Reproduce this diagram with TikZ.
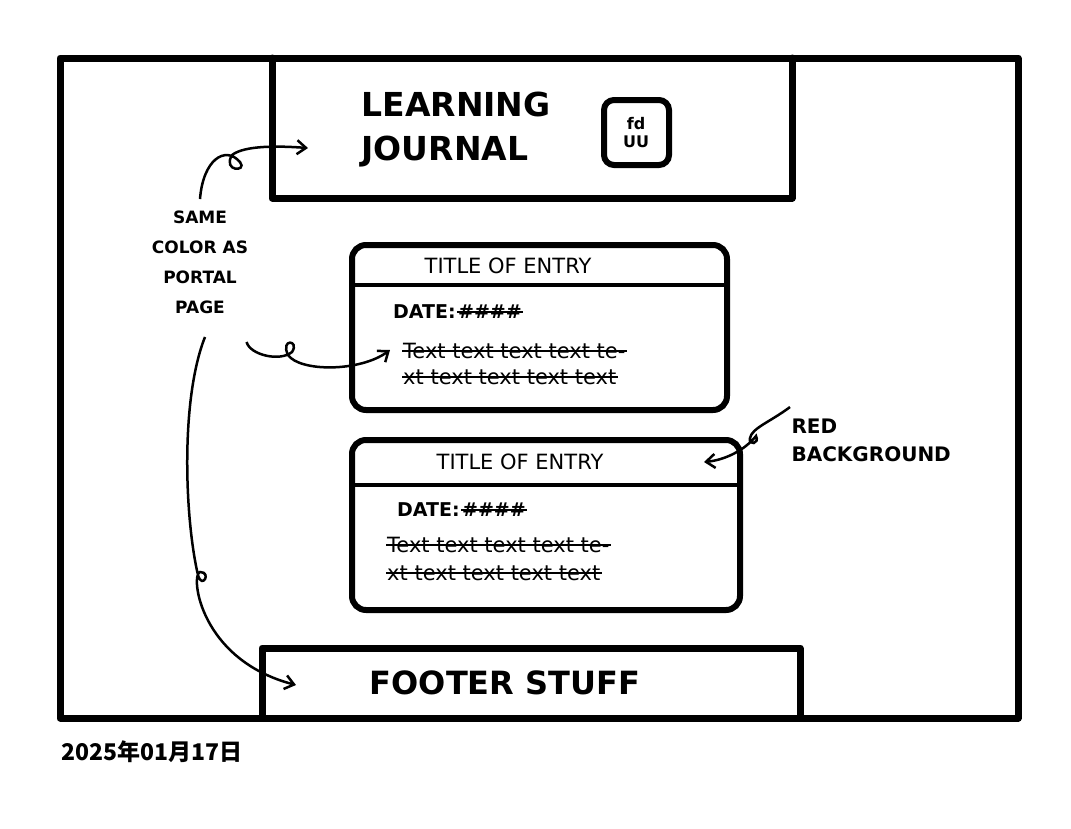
\documentclass[tikz,border=0pt]{standalone}
\usepackage{fontspec}
\setmainfont{DejaVu Sans}
\newfontfamily\cjk{Noto Sans CJK SC}
\usetikzlibrary{arrows.meta}

\tikzset{
  sketch/.style={line width=7pt, line join=round, line cap=round},
  entrybox/.style={line width=6pt, rounded corners=14pt},
  note/.style={font=\fontsize{17}{30}\selectfont\bfseries, align=center},
  scrawl/.style={font=\fontsize{21}{24}\selectfont, anchor=west, inner sep=1pt},
  strike/.style={line width=2pt},
  pointer/.style={line width=2.5pt, -{Straight Barb[length=9pt,width=14pt]}},
}

\begin{document}
\begin{tikzpicture}[x=1pt,y=-1pt]
\useasboundingbox (0,0) rectangle (1071,828);

% page frame
\draw[sketch] (60,58) rectangle (1018,718);

% header
\draw[sketch] (272,58) -- (272,198) -- (792,198) -- (792,58);
\node[anchor=west, align=left, font=\fontsize{33}{44}\selectfont\bfseries] (title) at (358,130) {LEARNING\\JOURNAL};
\draw[line width=6pt, rounded corners=10pt] (604,100) rectangle (669,165);
\node[align=center, font=\fontsize{16}{18}\selectfont\bfseries] (logo) at (636,133) {fd\\UU};

% entry one
\draw[entrybox] (352,245) rectangle (727,410);
\draw[line width=4pt] (352,285) -- (727,285);
\node[font=\fontsize{21}{24}\selectfont] (titleA) at (508,266) {TITLE OF ENTRY};
\node[scrawl, font=\fontsize{19}{22}\selectfont\bfseries] (dateA) at (392,312) {DATE:};
\node[scrawl, font=\fontsize{19}{22}\selectfont\bfseries, anchor=west] (hashA) at (dateA.east) {\#\#\#\#};
\node[scrawl] (textA1) at (402,351) {Text text text text te-};
\node[scrawl] (textA2) at (402,377) {xt text text text text};

% entry two
\draw[entrybox] (352,440) rectangle (740,610);
\draw[line width=4pt] (352,485) -- (740,485);
\node[font=\fontsize{21}{24}\selectfont] (titleB) at (520,462) {TITLE OF ENTRY};
\node[scrawl, font=\fontsize{19}{22}\selectfont\bfseries] (dateB) at (396,510) {DATE:};
\node[scrawl, font=\fontsize{19}{22}\selectfont\bfseries, anchor=west] (hashB) at (dateB.east) {\#\#\#\#};
\node[scrawl] (textB1) at (386,545) {Text text text text te-};
\node[scrawl] (textB2) at (386,573) {xt text text text text};

% strike-through of the filler text
\foreach \t in {textA1,textA2,textB1,textB2,hashA,hashB}
  \draw[strike] (\t.west) -- (\t.east);

% footer
\draw[sketch] (262,718) -- (262,648) -- (800,648) -- (800,718);
\node[font=\fontsize{32}{36}\selectfont\bfseries] (footer) at (505,683) {FOOTER STUFF};

% notes
\node[note] (same) at (200,262) {SAME\\COLOR AS\\PORTAL\\PAGE};
\node[note, font=\fontsize{20}{28}\selectfont\bfseries, align=left, anchor=west] (red) at (788,440) {RED\\BACKGROUND};
\node[anchor=west, font=\cjk\fontsize{23}{26}\selectfont\bfseries] (stamp) at (58,752) {2025年01月17日};

% pointers
\coordinate (hA) at (308,148);
\coordinate (eA) at (390,350);
\coordinate (fA) at (296,685);
\coordinate (eB) at (704,462);
\draw[pointer] (same.north) ++(0,-8) .. controls (203,160) and (225,145) .. (240,162)
  .. controls (248,172) and (222,172) .. (232,155) .. controls (245,145) and (280,146) .. (hA);
\draw[pointer] (same.south east) ++(-5,25) .. controls (250,355) and (280,362) .. (292,352)
  .. controls (300,340) and (280,338) .. (288,355) .. controls (300,372) and (360,372) .. (eA);
\draw[pointer] (same.south) ++(5,20) .. controls (180,400) and (185,520) .. (198,575)
  .. controls (202,590) and (212,572) .. (200,572) .. controls (190,575) and (200,660) .. (fA);
\draw[pointer] (red.north west) ++(2,-8) .. controls (770,422) and (752,428) .. (750,438)
  .. controls (748,446) and (760,444) .. (756,436) .. controls (745,450) and (725,460) .. (eB);
\end{tikzpicture}
\end{document}
